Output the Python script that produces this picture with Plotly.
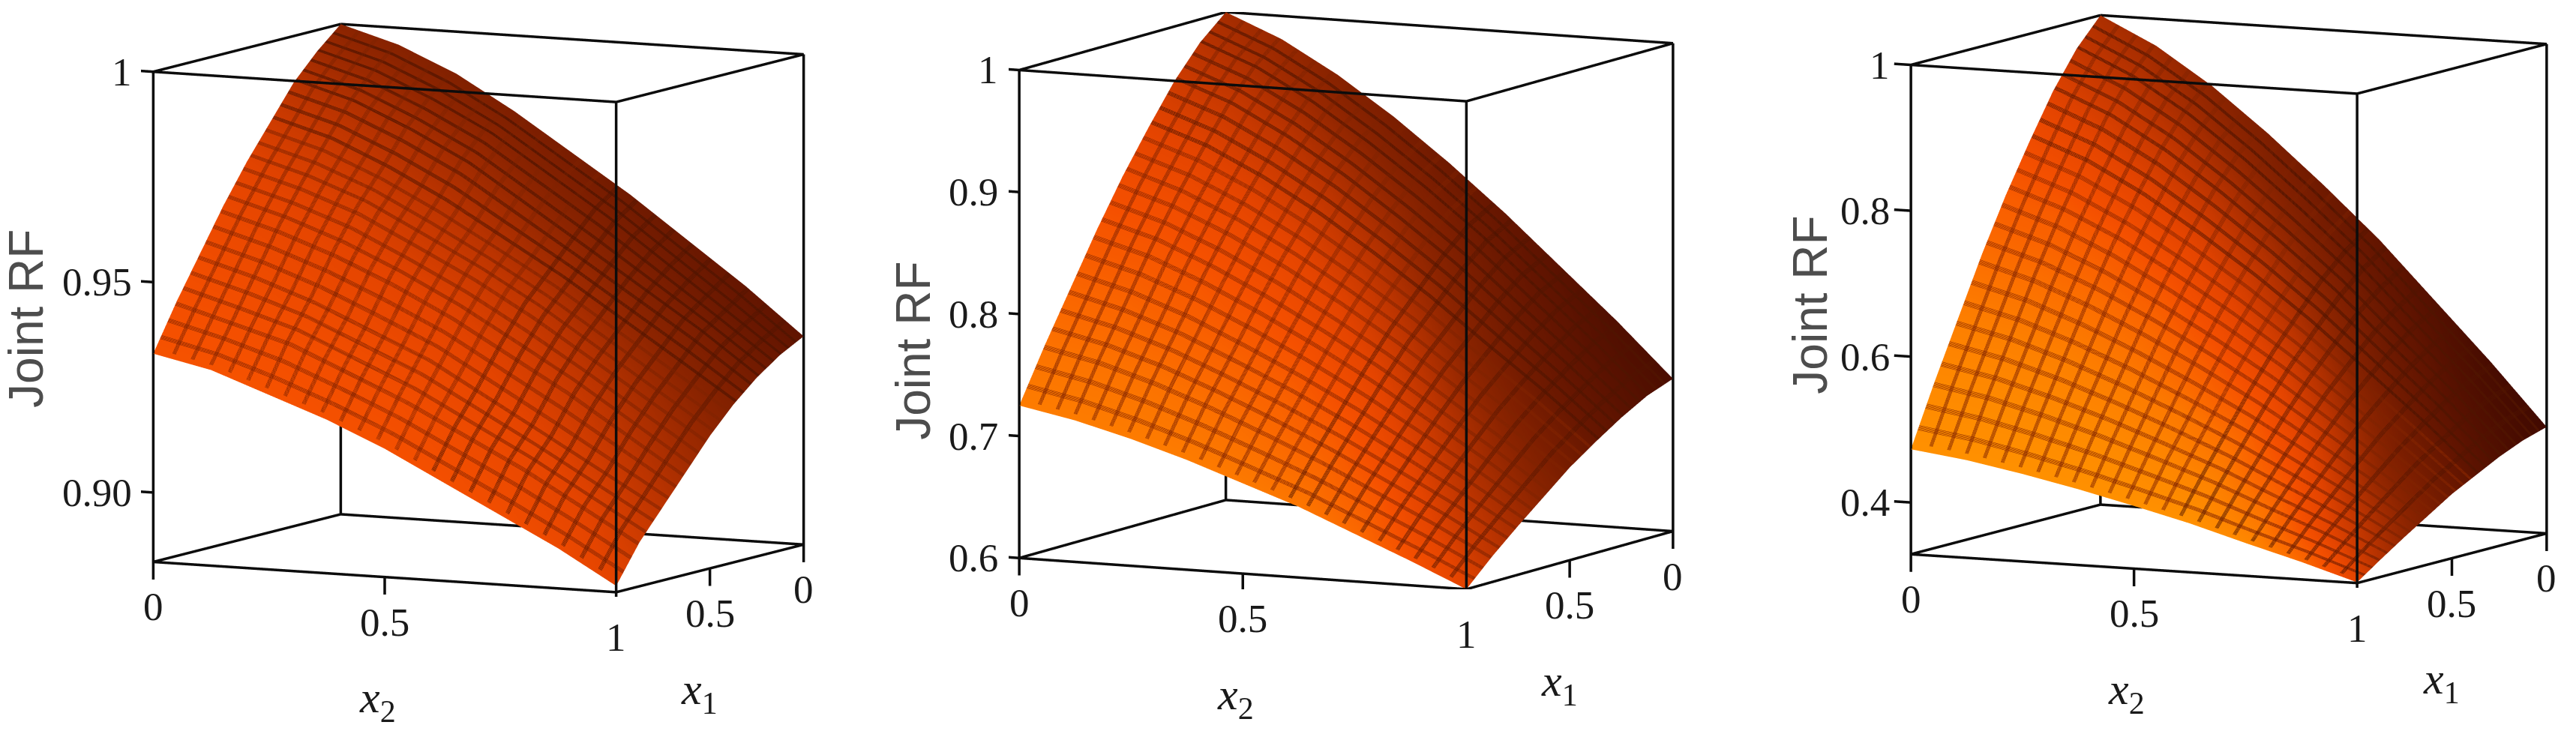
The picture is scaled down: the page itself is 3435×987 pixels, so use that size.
import numpy as np
import plotly.graph_objects as go

W, H = 3435, 987
grid = [0, .125, .25, .375, .5, .625, .75, .875, 1]

# rows: x1 = grid, columns: x2 = grid
z_a = [[1,.996,.990,.982,.973,.964,.954,.944,.933],
       [.995,.991,.985,.978,.969,.960,.950,.940,.930],
       [.989,.985,.979,.972,.963,.954,.945,.936,.926],
       [.981,.977,.971,.964,.956,.948,.939,.930,.921],
       [.973,.969,.964,.957,.950,.942,.933,.924,.915],
       [.964,.960,.955,.949,.942,.934,.926,.917,.908],
       [.954,.950,.945,.939,.933,.925,.917,.909,.901],
       [.944,.940,.936,.930,.924,.917,.910,.902,.894],
       [.933,.930,.925,.920,.914,.907,.900,.893,.885]]
z_b = [[1,.981,.955,.924,.889,.851,.810,.769,.725],
       [.981,.963,.938,.908,.875,.839,.799,.759,.717],
       [.955,.938,.914,.886,.854,.820,.782,.744,.705],
       [.923,.907,.885,.859,.829,.797,.762,.728,.691],
       [.889,.874,.854,.830,.803,.774,.742,.710,.676],
       [.851,.838,.819,.797,.773,.747,.718,.689,.658],
       [.810,.798,.782,.762,.741,.718,.693,.667,.640],
       [.769,.759,.745,.728,.709,.689,.667,.645,.621],
       [.725,.716,.704,.690,.674,.658,.639,.620,.60]]
z_c = [[1,.963,.913,.853,.787,.717,.638,.559,.475],
       [.963,.928,.881,.824,.761,.694,.619,.545,.465],
       [.913,.881,.837,.784,.726,.664,.594,.525,.451],
       [.852,.823,.783,.735,.683,.626,.564,.501,.434],
       [.787,.761,.726,.683,.637,.587,.532,.476,.417],
       [.715,.693,.662,.626,.586,.543,.495,.447,.396],
       [.636,.618,.593,.563,.530,.495,.456,.417,.375],
       [.557,.543,.523,.500,.474,.447,.416,.386,.353],
       [.473,.463,.449,.433,.415,.396,.374,.353,.33]]

shade_a = [[.30,.28,.26,.24,.22,.19,.17,.14,.12],
           [.36,.34,.32,.30,.27,.24,.21,.18,.16],
           [.44,.42,.40,.37,.34,.31,.27,.24,.21],
           [.52,.50,.47,.45,.42,.38,.34,.30,.26],
           [.59,.57,.55,.52,.50,.47,.42,.37,.32],
           [.64,.63,.61,.60,.58,.55,.50,.44,.38],
           [.68,.67,.66,.65,.64,.62,.58,.52,.45],
           [.71,.71,.70,.70,.69,.67,.64,.60,.52],
           [.73,.73,.73,.72,.72,.71,.69,.66,.60]]
shade_b = [[.38,.34,.28,.23,.18,.14,.10,.07,.05],
           [.44,.40,.35,.30,.25,.19,.14,.10,.08],
           [.52,.50,.46,.40,.34,.26,.19,.14,.11],
           [.60,.59,.56,.52,.45,.35,.26,.19,.15],
           [.68,.68,.66,.63,.57,.47,.35,.27,.21],
           [.75,.75,.74,.72,.68,.60,.48,.36,.29],
           [.82,.82,.81,.80,.78,.72,.60,.46,.38],
           [.88,.88,.88,.87,.85,.82,.74,.58,.46],
           [.92,.92,.92,.92,.91,.90,.85,.72,.60]]
shade_c = [[.40,.36,.30,.24,.18,.13,.08,.04,.02],
           [.48,.44,.38,.32,.25,.18,.12,.07,.04],
           [.58,.54,.50,.44,.36,.27,.18,.11,.07],
           [.68,.66,.62,.58,.50,.38,.26,.17,.11],
           [.78,.78,.76,.72,.64,.54,.38,.24,.17],
           [.86,.86,.86,.84,.78,.70,.54,.34,.24],
           [.93,.93,.93,.92,.90,.85,.70,.48,.32],
           [.97,.97,.97,.97,.96,.94,.86,.62,.42],
           [1,1,1,1,1,1,.97,.85,.60]]

x2_ticks = [0, .5, 1]
x2_labels = ["0", "0.5", "1"]
x1_ticks = [.5, 0]
x1_labels = ["0.5", "0"]
ztick_a = [.90, .95, 1]
zlab_a = ["0.90", "0.95", "1"]
ztick_b = [.6, .7, .8, .9, 1]
zlab_b = ["0.6", "0.7", "0.8", "0.9", "1"]
ztick_c = [.4, .6, .8, 1]
zlab_c = ["0.4", "0.6", "0.8", "1"]

colorscale = [[0, "#3c0800"], [.12, "#601400"], [.3, "#8c2400"], [.45, "#bc3400"],
              [.6, "#e44400"], [.72, "#f55000"], [.85, "#fb6a00"], [1, "#ff9000"]]

panels = [
    dict(z=z_a, shade=shade_a, zt=ztick_a, zl=zlab_a, zmin=.8835, zmax=1, c=(630, 403),
         size=(554, 694, 661), az=63.1, sel=.129, ymid=.9414, tdx=-170),
    dict(z=z_b, shade=shade_b, zt=ztick_b, zl=zlab_b, zmin=.6, zmax=1, c=(1787, 393),
         size=(619, 668, 659), az=63.5, sel=.14, ymid=.77, tdx=-141),
    dict(z=z_c, shade=shade_c, zt=ztick_c, zl=zlab_c, zmin=.329, zmax=1, c=(2964, 391),
         size=(570, 666, 660), az=63.6, sel=.13, ymid=.671, tdx=-135),
]

PAD_X1, PAD_X2, PAD_Z = .03, .05, .036
UNIT = 1.0 / 386   # scene units per pixel (aspectratio)
EYE_NORM = 3.0
TICK_FONT = dict(family="Liberation Serif", size=53, color="#1a1a1a")
LINE = dict(color="#0c0c0c", width=7)
MESH_STEP = 1 / 25
X1_OFFSETS = [-.004, -.002, 0, .002, .004]
X2_OFFSETS = [-.0032, -.0016, 0, .0016, .0032]
# (x1 first, x1 last, x2 first, x2 last, colour): lines through the dark corner are darker
MESH_TIERS = [(.40, .96, .04, .56, "rgb(128,34,0)"),
              (.04, .36, .60, .96, "rgb(80,20,0)")]
FLAT = dict(ambient=1, diffuse=0, specular=0, roughness=1, fresnel=0)

fig = go.Figure()
layout = dict(width=W, height=H, margin=dict(l=0, r=0, t=0, b=0),
              paper_bgcolor="white", showlegend=False)

for i, p in enumerate(panels):
    name = "scene" if i == 0 else f"scene{i+1}"
    zmin, zmax = p["zmin"], p["zmax"]
    dz = zmax - zmin
    fig.add_trace(go.Surface(
        scene=name, x=grid, y=grid, z=np.transpose(p["z"]),
        surfacecolor=np.transpose(p["shade"]), cmin=0, cmax=1, colorscale=colorscale,
        showscale=False, hoverinfo="skip", lighting=FLAT))
    # Mesh: WebGL contour lines are one pixel wide, so several offset sets make one thick line.
    for a1, b1, a2, b2, col in MESH_TIERS:
        for o1, o2 in zip(X1_OFFSETS, X2_OFFSETS):
            fig.add_trace(go.Surface(
                scene=name, x=grid, y=grid, z=np.transpose(p["z"]),
                surfacecolor=np.transpose(p["shade"]), cmin=0, cmax=1, colorscale=colorscale,
                showscale=False, hoverinfo="skip", lighting=FLAT, hidesurface=True,
                contours=dict(
                    x=dict(show=True, start=a1 + o1, end=b1 + o1 + .001, size=MESH_STEP, color=col, width=2),
                    y=dict(show=True, start=a2 + o2, end=b2 + o2 + .001, size=MESH_STEP, color=col, width=2),
                    z=dict(show=False))))
    # box edges
    lo, hi = zmin, zmax
    bx = [0, 1, 1, 0, 0, None, 0, 1, 1, 0, 0, None, 0, 0, None, 1, 1, None, 1, 1, None, 0, 0]
    by = [0, 0, 1, 1, 0, None, 0, 0, 1, 1, 0, None, 0, 0, None, 0, 0, None, 1, 1, None, 1, 1]
    bz = [lo, lo, lo, lo, lo, None, hi, hi, hi, hi, hi, None, lo, hi, None, lo, hi, None, lo, hi, None, lo, hi]
    fig.add_trace(go.Scatter3d(scene=name, x=bx, y=by, z=bz, mode="lines", line=LINE, hoverinfo="skip"))
    # ticks
    tx, ty, tz = [], [], []
    for v in x2_ticks:
        tx += [1, 1, None]; ty += [v, v, None]; tz += [lo, lo - PAD_Z * dz, None]
    for v in x1_ticks:
        tx += [v, v, None]; ty += [1, 1, None]; tz += [lo, lo - PAD_Z * dz, None]
    for v in p["zt"]:
        tx += [1, 1, None]; ty += [0, -PAD_X2 * .75, None]; tz += [v, v, None]
    fig.add_trace(go.Scatter3d(scene=name, x=tx, y=ty, z=tz, mode="lines", line=LINE, hoverinfo="skip"))

    # annotations
    ann = []
    for v, t in zip(x2_ticks, x2_labels):
        ann.append(dict(x=1, y=v, z=lo, text=t, showarrow=False, font=TICK_FONT,
                        xanchor="center", yanchor="middle", yshift=-60))
    for v, t in zip(x1_ticks, x1_labels):
        ann.append(dict(x=v, y=1, z=lo, text=t, showarrow=False, font=TICK_FONT,
                        xanchor="center", yanchor="middle", yshift=-60))
    for v, t in zip(p["zt"], p["zl"]):
        ann.append(dict(x=1, y=0, z=v, text=t, showarrow=False, font=TICK_FONT,
                        xanchor="right", yanchor="middle", xshift=-26))
    title_font = dict(family="Liberation Serif", size=60, color="#1a1a1a")
    ann.append(dict(x=1, y=.5, z=lo, text="<i>x</i><sub>2</sub>", showarrow=False, font=title_font,
                    xanchor="center", yanchor="middle", yshift=-165, xshift=-10))
    ann.append(dict(x=.5, y=1, z=lo, text="<i>x</i><sub>1</sub>", showarrow=False, font=title_font,
                    xanchor="center", yanchor="middle", yshift=-165, xshift=-14))
    ann.append(dict(x=1, y=0, z=p["ymid"], text="Joint RF", showarrow=False, textangle=-90,
                    font=dict(family="Liberation Sans", size=64, color="#4d4d4d"),
                    xanchor="center", yanchor="middle", xshift=p["tdx"]))

    cx, cy = p["c"]
    hw, hh = 450, 385
    A = np.radians(p["az"])
    ce = (1 - p["sel"] ** 2) ** .5
    eye = np.array([ce * np.sin(A), ce * np.cos(A), p["sel"]]) * EYE_NORM
    b, a, c = p["size"]
    ax_common = dict(showgrid=False, zeroline=False, showline=False, showticklabels=False,
                     ticks="", showbackground=False, showspikes=False, title=dict(text=""))
    layout[name] = dict(
        domain=dict(x=[(cx - hw) / W, (cx + hw) / W], y=[1 - (cy + hh) / H, 1 - (cy - hh) / H]),
        xaxis=dict(range=[-PAD_X1, 1 + PAD_X1], **ax_common),
        yaxis=dict(range=[-PAD_X2, 1 + PAD_X2], **ax_common),
        zaxis=dict(range=[zmin - PAD_Z * dz, zmax + PAD_Z * dz], **ax_common),
        aspectmode="manual",
        aspectratio=dict(x=b * (1 + 2 * PAD_X1) * UNIT, y=a * (1 + 2 * PAD_X2) * UNIT, z=c * (1 + 2 * PAD_Z) * UNIT),
        camera=dict(eye=dict(x=eye[0], y=eye[1], z=eye[2]), center=dict(x=0, y=0, z=0),
                    up=dict(x=0, y=0, z=1), projection=dict(type="orthographic")),
        annotations=ann)

fig.update_layout(**layout)
fig.write_html("out.html")
